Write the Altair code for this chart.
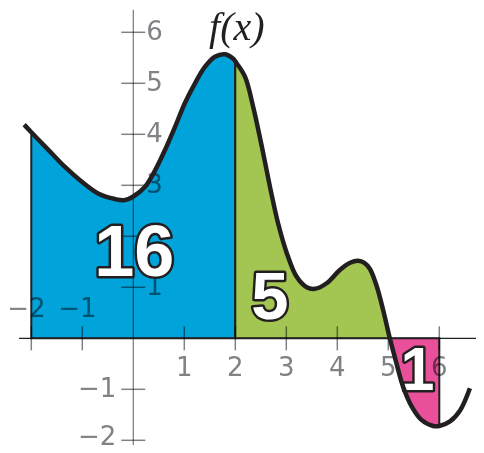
import altair as alt
import pandas as pd

# ---- data ----
curve_x = [-2.14, -2.0, -1.67, -1.34, -1.01, -0.69, -0.36, -0.16, 0.0, 0.23, 0.43, 0.62, 0.82,
           1.01, 1.21, 1.41, 1.60, 1.80, 1.96, 2.0, 2.19, 2.35, 2.52, 2.68, 2.84, 3.01, 3.20,
           3.40, 3.56, 3.79, 4.05, 4.25, 4.41, 4.53, 4.64, 4.77, 4.90, 5.03, 5.16, 5.29, 5.46,
           5.65, 5.88, 6.0, 6.21, 6.41, 6.60]
curve_y = [4.19, 4.04, 3.70, 3.36, 3.07, 2.84, 2.73, 2.71, 2.78, 2.97, 3.30, 3.69, 4.15,
           4.61, 5.00, 5.33, 5.52, 5.57, 5.48, 5.43, 5.13, 4.54, 3.76, 2.97, 2.25, 1.67, 1.21,
           1.00, 0.97, 1.08, 1.34, 1.48, 1.52, 1.48, 1.36, 1.03, 0.55, 0.0, -0.49, -0.95, -1.34,
           -1.60, -1.72, -1.72, -1.63, -1.41, -0.98]

seg_names = ["a", "b", "c"]
seg_start = [-2.0, 2.0, 5.03]
seg_end = [2.0, 5.03, 6.0]
seg_colors = ["#00a3da", "#a3c552", "#e8519a"]

area_labels = ["16", "5", "1"]
area_label_x = [0.02, 2.68, 5.57]
area_label_y = [1.65, 0.77, -0.66]
area_label_size = [72, 67, 61]

x_ticks = [-2, -1, 1, 2, 3, 4, 5, 6]
x_tick_labels = ["\u22122", "\u22121", "1", "2", "3", "4", "5", "6"]
y_ticks = [-2, -1, 1, 2, 3, 4, 5, 6]
# the "2" label sits hidden behind the big "16" in the picture
y_label_values = [-2, -1, 1, 3, 4, 5, 6]
y_label_texts = ["\u22122", "\u22121", "1", "3", "4", "5", "6"]

title_text = ["f(x)"]
title_x = [2.03]
title_y = [5.85]

# ---- layout ----
W, H = 468, 437
PX = 51.0
XDOM = [-125.3 / PX, -125.3 / PX + W / PX]
YDOM = [330.3 / PX - H / PX, 330.3 / PX]
TICK = 12 / PX

xs = alt.Scale(domain=XDOM, nice=False, zero=False)
ys = alt.Scale(domain=YDOM, nice=False, zero=False)
X = lambda f: alt.X(f, type="quantitative", scale=xs, axis=None)
Y = lambda f: alt.Y(f, type="quantitative", scale=ys, axis=None)

INK = "#231f20"
GREY = "#808285"
INTERP = "catmull-rom"

curve = pd.DataFrame({"x": curve_x, "y": curve_y})

rows = []
for name, a, b in zip(seg_names, seg_start, seg_end):
    for x, y in zip(curve_x, curve_y):
        if a - 1e-9 <= x <= b + 1e-9:
            rows.append({"x": x, "y": y, "zero": 0.0, "seg": name})
areas_df = pd.DataFrame(rows)

areas = alt.Chart(areas_df).mark_area(
    interpolate=INTERP, stroke=INK, strokeWidth=2, fillOpacity=1
).encode(
    x=X("x"), y=alt.Y("y:Q", scale=ys, axis=None, stack=None), y2="zero:Q",
    color=alt.Color("seg:N", scale=alt.Scale(domain=seg_names, range=seg_colors), legend=None),
)

# y axis
yaxis_df = pd.DataFrame({"x": [0.0], "y": [YDOM[0]], "y2": [6.44]})
yaxis = alt.Chart(yaxis_df).mark_rule(color=GREY, strokeWidth=1.3, blend="multiply").encode(
    x=X("x"), y=Y("y"), y2="y2:Q"
)
yt_df = pd.DataFrame({"v": y_ticks, "a": [-TICK] * len(y_ticks), "b": [TICK] * len(y_ticks)})
yticks = alt.Chart(yt_df).mark_rule(color=GREY, strokeWidth=1.5, blend="multiply").encode(
    y=Y("v"), x=X("a"), x2="b:Q"
)
yl_df = pd.DataFrame({"v": y_label_values, "lab": y_label_texts,
                      "zero": [0.0] * len(y_label_values)})
ylab_pos = alt.Chart(yl_df).transform_filter("datum.v > 0").mark_text(
    align="left", baseline="middle", dx=13, fontSize=26, font="DejaVu Sans", color=GREY,
    blend="multiply"
).encode(y=Y("v"), x=X("zero"), text="lab:N")
ylab_neg1 = alt.Chart(yl_df).transform_filter("datum.v == -1").mark_text(
    align="right", baseline="middle", dx=-17, fontSize=26, font="DejaVu Sans", color=GREY,
    blend="multiply"
).encode(y=Y("v"), x=X("zero"), text="lab:N")
ylab_neg2 = alt.Chart(yl_df).transform_filter("datum.v == -2").mark_text(
    align="right", baseline="middle", dx=-17, dy=-3, fontSize=26, font="DejaVu Sans",
    color=GREY, blend="multiply"
).encode(y=Y("v"), x=X("zero"), text="lab:N")

# x axis
xaxis_df = pd.DataFrame({"y": [0.0], "x": [-2.24], "x2": [XDOM[1]]})
xaxis = alt.Chart(xaxis_df).mark_rule(color=INK, strokeWidth=1.2).encode(
    y=Y("y"), x=X("x"), x2="x2:Q"
)
xt_df = pd.DataFrame({"v": x_ticks, "lab": x_tick_labels, "zero": [0.0] * len(x_ticks),
                      "a": [-TICK] * len(x_ticks), "b": [TICK] * len(x_ticks)})
xticks = alt.Chart(xt_df).mark_rule(color=GREY, strokeWidth=1.5, blend="multiply").encode(
    x=X("v"), y=Y("a"), y2="b:Q"
)
xlab_pos = alt.Chart(xt_df).transform_filter("datum.v > 0").mark_text(
    align="center", baseline="middle", dy=30, fontSize=26, font="DejaVu Sans", color=GREY,
    blend="multiply"
).encode(x=X("v"), y=Y("zero"), text="lab:N")
xlab_neg = alt.Chart(xt_df).transform_filter("datum.v < 0").mark_text(
    align="center", baseline="middle", dx=-5, dy=-29, fontSize=26, font="DejaVu Sans",
    color=GREY, blend="multiply"
).encode(x=X("v"), y=Y("zero"), text="lab:N")

# big area numbers
num_df = pd.DataFrame({"x": area_label_x, "y": area_label_y, "t": area_labels,
                       "s": area_label_size})
NUMFONT = "Liberation Sans Narrow, Liberation Sans, Arial, sans-serif"
num_outline = alt.Chart(num_df).mark_text(
    align="center", baseline="middle", font=NUMFONT, fontWeight="bold",
    fill="white", stroke=INK, strokeWidth=5, strokeJoin="round"
).encode(x=X("x"), y=Y("y"), text="t:N", size=alt.Size("s:Q", scale=None))
num_fill = alt.Chart(num_df).mark_text(
    align="center", baseline="middle", font=NUMFONT, fontWeight="bold",
    fill="white", strokeWidth=0
).encode(x=X("x"), y=Y("y"), text="t:N", size=alt.Size("s:Q", scale=None))

line = alt.Chart(curve).mark_line(
    interpolate=INTERP, color=INK, strokeWidth=4.5
).encode(x=X("x"), y=Y("y"))

title_df = pd.DataFrame({"x": title_x, "y": title_y, "t": title_text})
title = alt.Chart(title_df).mark_text(
    align="center", baseline="alphabetic", font="Liberation Serif", fontStyle="italic",
    fontSize=40, color=INK
).encode(x=X("x"), y=Y("y"), text="t:N")

chart = alt.layer(
    areas, yaxis, yticks, ylab_pos, ylab_neg1, ylab_neg2, xaxis, xticks, xlab_pos, xlab_neg,
    num_outline, num_fill, line, title
).properties(
    width=W, height=H, autosize=alt.AutoSizeParams(type="none"), padding=0
).configure_view(strokeWidth=0)

chart.save("out.html", embed_options={"renderer": "svg", "actions": False})
